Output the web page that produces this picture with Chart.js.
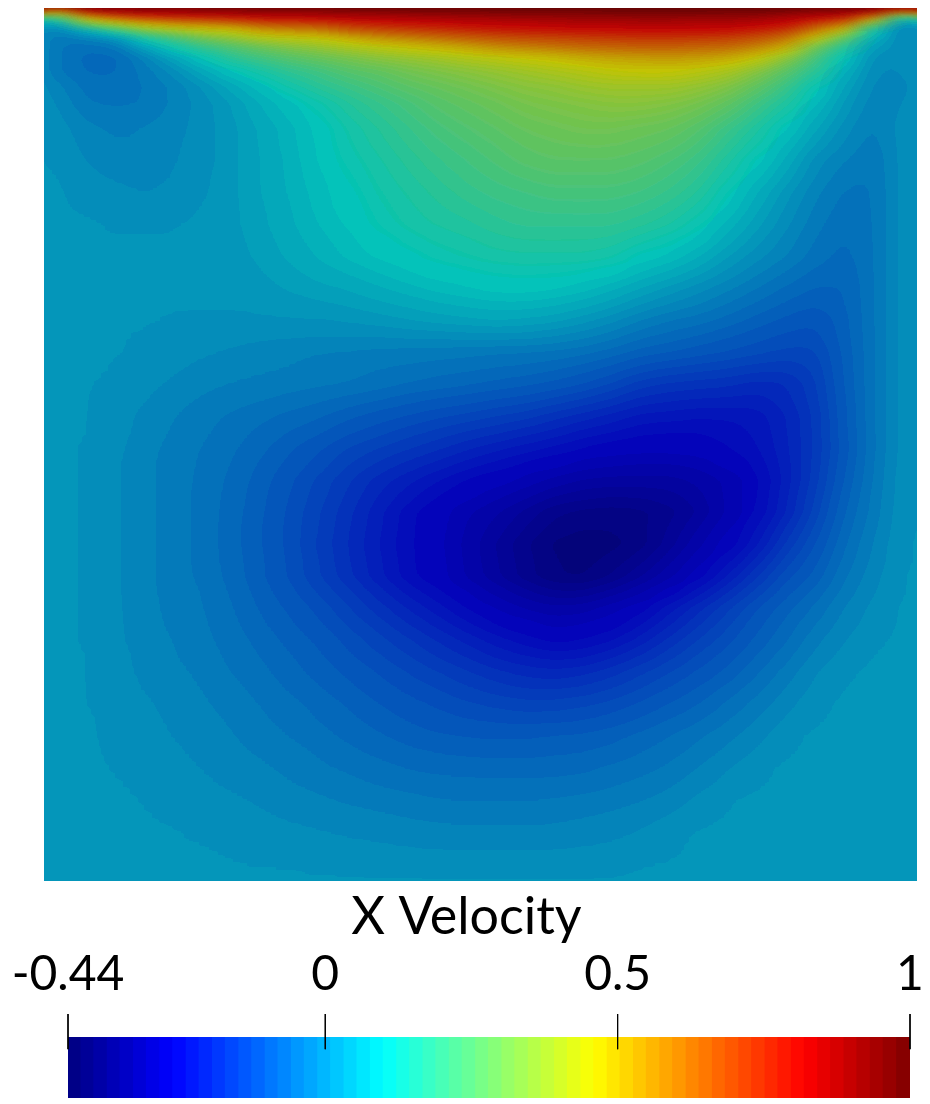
<!DOCTYPE html>
<html><head><meta charset="utf-8">
<script src="https://cdn.jsdelivr.net/npm/chart.js@4"></script>
<style>
html,body{margin:0;padding:0;background:#fff;width:930px;height:1104px;overflow:hidden}
#field{position:absolute;left:44px;top:8px;width:873px;height:873px;overflow:hidden}
#fieldCanvas{position:absolute;left:-58px;top:-8px;filter:url(#smooth)}
#barCanvas{position:absolute;left:3px;top:881px}
</style></head><body>
<svg width="0" height="0" style="position:absolute"><filter id="smooth" x="0" y="0" width="100%" height="100%" color-interpolation-filters="sRGB">
<feGaussianBlur stdDeviation="13 3"/>
<feComponentTransfer id="bands"></feComponentTransfer>
</filter></svg>
<div id="field"><canvas id="fieldCanvas" width="990" height="889"></canvas></div>
<canvas id="barCanvas" width="927" height="223"></canvas>
<script>
const title = "X Velocity";
const tickValues = [-0.44, 0, 0.5, 1];
const tickLabels = ["-0.44", "0", "0.5", "1"];
const colorbarLevels = [-0.429,-0.406,-0.384,-0.361,-0.339,-0.316,-0.294,-0.271,-0.249,-0.226,-0.204,-0.181,-0.159,-0.136,-0.114,-0.091,-0.069,-0.046,-0.024,-0.001,0.021,0.044,0.066,0.089,0.111,0.134,0.156,0.179,0.201,0.224,0.246,0.269,0.291,0.314,0.336,0.359,0.381,0.404,0.426,0.449,0.471,0.494,0.516,0.539,0.561,0.584,0.606,0.629,0.651,0.674,0.696,0.719,0.741,0.764,0.786,0.809,0.831,0.854,0.876,0.899,0.921,0.944,0.966,0.989];
// cavity cross-section, read row by row: moving lid (off-screen cap), interior rows, floor (off-screen cap)
const rowHeights = [8,6,6,6,8,8,10,12,14,16,18,32,32,32,32,32,32,32,32,32,32,32,32,32,32,32,32,32,32,32,32,32,32,32,33,8];
const leftWall  = [1,.8,.2,.02,0,0,0,0,0,0,0,0,0,0,0,0,0,0,0,0,0,0,0,0,0,0,0,0,0,0,0,0,0,0,0,0];
const rightWall = [1,.8,.3,.05,0,0,0,0,0,0,0,0,0,0,0,0,0,0,0,0,0,0,0,0,0,0,0,0,0,0,0,0,0,0,0,0];
const lid=[1,1,1,1,1,1,1,1,1,1,1,1,1,1,1,1,1,1,1,1,1,1,1,1,1,1,1,1,1,1];
const floorRow=[0,0,0,0,0,0,0,0,0,0,0,0,0,0,0,0,0,0,0,0,0,0,0,0,0,0,0,0,0,0];
const r00=[.55,.84,.88,.90,.91,.92,.93,.94,.94,.94,.95,.95,.96,.96,.96,.97,.97,.97,.97,.97,.98,.98,.97,.97,.97,.96,.94,.93,.88,.7];
const r01=[.25,.51,.65,.71,.74,.76,.78,.81,.82,.83,.85,.86,.87,.88,.89,.89,.90,.90,.91,.91,.91,.91,.91,.91,.90,.87,.83,.78,.59,.15];
const r02=[.05,.34,.44,.52,.57,.60,.63,.68,.70,.71,.75,.77,.79,.80,.82,.83,.84,.85,.86,.86,.87,.87,.86,.86,.84,.81,.71,.63,.33,0];
const r03=[-.03,.06,.2,.33,.39,.44,.46,.54,.57,.59,.65,.68,.7,.72,.74,.76,.77,.78,.79,.79,.8,.8,.8,.79,.76,.72,.6,.46,.12,-.03];
const r04=[-.05,-.03,0,.14,.22,.3,.35,.41,.43,.45,.5,.55,.58,.61,.64,.66,.68,.69,.7,.71,.72,.72,.71,.7,.67,.61,.46,.27,.06,-.03];
const r05=[-.05,-.065,-.05,.03,.12,.19,.24,.29,.33,.36,.4,.43,.46,.49,.52,.56,.58,.6,.62,.63,.64,.64,.63,.62,.58,.5,.3,.16,.02,-.02];
const r06=[-.05,-.075,-.075,-.03,.03,.1,.17,.21,.25,.28,.31,.34,.36,.38,.41,.43,.45,.47,.5,.52,.53,.54,.53,.51,.45,.35,.22,.1,-.01,-.02];
const r07=[-.05,-.07,-.07,-.045,-.01,.04,.09,.14,.18,.21,.25,.27,.3,.32,.34,.36,.38,.4,.42,.44,.45,.45,.43,.4,.34,.26,.17,.06,-.02,-.02];
const r08=[-.03,-.06,-.065,-.05,-.03,0,.04,.08,.13,.17,.2,.23,.26,.28,.3,.32,.34,.35,.37,.38,.38,.38,.36,.33,.27,.2,.11,.03,-.025,-.025];
const r09=[-.02,-.05,-.055,-.05,-.03,-.01,.015,.05,.08,.12,.16,.19,.22,.25,.27,.29,.31,.32,.33,.34,.34,.33,.31,.27,.21,.15,.075,.01,-.03,-.02];
const r10=[-.01,-.03,-.04,-.035,-.025,-.01,.01,.035,.06,.09,.13,.16,.19,.22,.24,.26,.28,.29,.3,.3,.29,.28,.25,.2,.15,.09,.035,-.01,-.04,-.01];
const r11=[-.005,-.02,-.03,-.03,-.02,-.01,.01,.03,.055,.085,.115,.14,.165,.19,.21,.23,.25,.26,.26,.26,.25,.23,.2,.15,.1,.045,-.01,-.035,-.05,-.01];
const r12=[0,-.01,-.015,-.02,-.015,-.005,.01,.03,.05,.075,.1,.125,.145,.165,.185,.2,.21,.22,.22,.22,.21,.19,.16,.105,.05,.005,-.03,-.055,-.055,-.01];
const r13=[0,0,-.005,-.005,-.003,0,.01,.025,.045,.065,.085,.11,.13,.145,.155,.17,.18,.18,.18,.18,.165,.145,.11,.06,.02,-.015,-.045,-.065,-.055,-.01];
const r14=[0,0,0,0,0,0,.005,.018,.035,.05,.068,.085,.1,.115,.125,.135,.14,.14,.14,.13,.10,.08,.05,.015,-.012,-.035,-.06,-.075,-.055,-.01];
const r15=[0,0,0,0,0,0,0,.008,.016,.025,.033,.045,.058,.07,.08,.088,.09,.085,.075,.055,.03,.01,-.01,-.03,-.05,-.07,-.085,-.085,-.055,-.01];
const r16=[0,0,0,-.002,-.003,-.005,-.005,-.005,-.004,-.003,0,.005,.012,.02,.025,.03,.028,.02,.005,-.012,-.035,-.05,-.06,-.075,-.09,-.105,-.115,-.09,-.055,-.01];
const r17=[0,0,-.002,-.006,-.012,-.017,-.022,-.026,-.03,-.034,-.037,-.04,-.042,-.044,-.046,-.048,-.05,-.055,-.062,-.075,-.09,-.10,-.11,-.12,-.13,-.14,-.14,-.095,-.055,-.01];
const r18=[0,-.001,-.006,-.014,-.022,-.03,-.036,-.04,-.043,-.048,-.053,-.06,-.068,-.075,-.082,-.088,-.095,-.105,-.118,-.135,-.16,-.17,-.175,-.18,-.19,-.185,-.155,-.10,-.055,-.01];
const r19=[0,-.002,-.011,-.023,-.034,-.045,-.055,-.063,-.072,-.082,-.095,-.108,-.12,-.13,-.14,-.15,-.16,-.175,-.19,-.205,-.22,-.225,-.23,-.23,-.225,-.2,-.165,-.105,-.055,-.01];
const r20=[0,-.003,-.015,-.029,-.041,-.052,-.065,-.08,-.098,-.115,-.135,-.15,-.165,-.18,-.195,-.21,-.222,-.235,-.25,-.26,-.27,-.27,-.265,-.25,-.235,-.205,-.165,-.11,-.055,-.01];
const r21=[0,-.003,-.017,-.031,-.044,-.056,-.072,-.092,-.115,-.14,-.165,-.19,-.21,-.23,-.25,-.265,-.28,-.30,-.315,-.32,-.32,-.32,-.31,-.29,-.255,-.21,-.16,-.10,-.05,-.008];
const r22=[0,-.003,-.017,-.031,-.044,-.058,-.076,-.098,-.123,-.15,-.18,-.21,-.24,-.265,-.29,-.31,-.335,-.36,-.37,-.375,-.37,-.355,-.33,-.29,-.25,-.2,-.145,-.085,-.045,-.006];
const r23=[0,-.003,-.017,-.031,-.044,-.058,-.078,-.10,-.125,-.155,-.185,-.215,-.245,-.27,-.30,-.33,-.36,-.385,-.395,-.39,-.375,-.34,-.30,-.265,-.22,-.165,-.12,-.07,-.035,-.004];
const r24=[0,-.003,-.017,-.031,-.043,-.056,-.075,-.097,-.122,-.15,-.18,-.21,-.24,-.265,-.295,-.325,-.355,-.38,-.385,-.365,-.335,-.30,-.26,-.215,-.17,-.125,-.095,-.055,-.025,-.002];
const r25=[0,-.003,-.017,-.029,-.041,-.05,-.067,-.086,-.105,-.125,-.15,-.175,-.2,-.225,-.25,-.275,-.295,-.31,-.305,-.285,-.26,-.225,-.19,-.155,-.12,-.09,-.065,-.035,-.015,0];
const r26=[0,-.003,-.016,-.026,-.037,-.047,-.06,-.075,-.09,-.105,-.125,-.145,-.165,-.185,-.205,-.225,-.24,-.255,-.25,-.235,-.21,-.18,-.15,-.125,-.095,-.07,-.04,-.02,-.005,0];
const r27=[0,-.002,-.014,-.022,-.03,-.04,-.052,-.064,-.077,-.09,-.105,-.12,-.135,-.15,-.165,-.18,-.19,-.195,-.19,-.175,-.155,-.135,-.115,-.095,-.07,-.045,-.02,-.005,0,0];
const r28=[0,-.001,-.011,-.017,-.025,-.033,-.043,-.053,-.064,-.075,-.087,-.1,-.112,-.122,-.132,-.14,-.145,-.145,-.14,-.13,-.115,-.1,-.085,-.065,-.045,-.025,-.008,0,0,0];
const r29=[0,0,-.007,-.012,-.02,-.026,-.034,-.043,-.052,-.062,-.072,-.082,-.09,-.097,-.102,-.104,-.104,-.10,-.097,-.09,-.08,-.068,-.055,-.04,-.025,-.008,0,0,0,0];
const r30=[0,0,-.003,-.007,-.013,-.02,-.026,-.033,-.04,-.048,-.055,-.062,-.068,-.072,-.075,-.076,-.076,-.075,-.072,-.066,-.058,-.048,-.035,-.02,-.007,0,0,0,0,0];
const r31=[0,0,0,-.003,-.007,-.012,-.017,-.022,-.028,-.033,-.038,-.042,-.046,-.05,-.052,-.052,-.052,-.05,-.047,-.042,-.036,-.028,-.015,-.004,0,0,0,0,0,0];
const r32=[0,0,0,0,-.002,-.005,-.008,-.012,-.015,-.018,-.021,-.024,-.027,-.029,-.03,-.03,-.03,-.03,-.027,-.024,-.018,-.008,-.001,0,0,0,0,0,0,0];
const r33=[0,0,0,0,0,0,-.001,-.003,-.004,-.005,-.006,-.008,-.009,-.01,-.01,-.01,-.01,-.01,-.01,-.008,-.004,-.001,0,0,0,0,0,0,0,0];
const rows=[lid,r00,r01,r02,r03,r04,r05,r06,r07,r08,r09,r10,r11,r12,r13,r14,r15,r16,r17,r18,r19,r20,r21,r22,r23,r24,r25,r26,r27,r28,r29,r30,r31,r32,r33,floorRow];

// colour scale
const VMIN=-0.44, VMAX=1;
function jet(v,dim,dimB){
  const t=Math.min(1,Math.max(0,(v-VMIN)/(VMAX-VMIN)));
  const c=x=>Math.min(1,Math.max(0,x));
  const r=c(Math.min(4*t-1.5,-4*t+4.5)), g=c(Math.min(4*t-0.5,-4*t+3.5)), b=c(Math.min(4*t+0.5,-4*t+2.5));
  return `rgb(${Math.round(r*255*dim)},${Math.round(g*255*dim)},${Math.round(b*255*dimB)})`;
}
const shaded=v=>jet(v+0.006,0.78,0.74);

// discrete contour look
const n=28, table=Array.from({length:n},(_, i)=>((i+.5)/n).toFixed(4)).join(' ');
const ct=document.getElementById('bands');
['feFuncR','feFuncG','feFuncB'].forEach(k=>{const f=document.createElementNS('http://www.w3.org/2000/svg',k);f.setAttribute('type','discrete');f.setAttribute('tableValues',table);ct.appendChild(f);});

// the wall values continue off-screen so the wall colour runs right up to the edge
const PAD=2;
const paddedRows=rows.map((row,i)=>[...Array(PAD).fill(leftWall[i]),...row,...Array(PAD).fill(rightWall[i])]);
const colLabels=paddedRows[0].map((_,i)=>i);
const cum=[0];rowHeights.forEach(h=>cum.push(cum[cum.length-1]+h));

new Chart(document.getElementById('fieldCanvas'),{
  type:'bar',
  data:{labels:colLabels,datasets:paddedRows.map((row,ri)=>({
    label:'row '+ri,
    data:row.map(()=>rowHeights[ri]),
    velocity:row,
    barPercentage:1,categoryPercentage:1,borderWidth:0,inflateAmount:1,
    backgroundColor(ctx){
      if(ctx.type!=='data')return '#000';
      const j=ctx.dataIndex, v=row[j];
      const up=ri>0?paddedRows[ri-1][j]:v;
      const dn=ri<rows.length-1?paddedRows[ri+1][j]:v;
      const hUp=ri>0?rowHeights[ri-1]:rowHeights[ri], hDn=ri<rows.length-1?rowHeights[ri+1]:rowHeights[ri], h=rowHeights[ri];
      const top=v+(up-v)*h/(h+hUp), bot=v+(dn-v)*h/(h+hDn);
      const y=ctx.chart.scales.y;
      const y0=y?y.getPixelForValue(cum[ri]):NaN, y1=y?y.getPixelForValue(cum[ri+1]):NaN;
      if(!isFinite(y0)||!isFinite(y1))return shaded(v);
      const g=ctx.chart.ctx.createLinearGradient(0,y0,0,y1);
      g.addColorStop(0,shaded(top));g.addColorStop(.5,shaded(v));g.addColorStop(1,shaded(bot));
      return g;
    }
  }))},
  options:{responsive:false,animation:false,events:[],
    layout:{padding:0},
    plugins:{legend:{display:false},tooltip:{enabled:false}},
    scales:{
      x:{display:false,stacked:true,offset:true},
      y:{display:false,stacked:true,reverse:true,min:0,max:889}
    }}
});

const tickLines=[];
tickValues.forEach(x=>{tickLines.push({x,y:1.377},{x,y:0.8},{x,y:NaN});});
new Chart(document.getElementById('barCanvas'),{
  data:{datasets:[
    {type:'line',data:tickLines,borderColor:'#000',borderWidth:1,pointRadius:0,tension:0,clip:false,spanGaps:false,order:0},
    {type:'bar',data:colorbarLevels.map(x=>({x,y:1})),backgroundColor:colorbarLevels.map(v=>jet(v,1,1)),barPercentage:1,categoryPercentage:1,borderWidth:0,inflateAmount:1,order:1}
  ]},
  options:{responsive:false,animation:false,events:[],
    layout:{padding:{left:0,right:0,top:0,bottom:6}},
    plugins:{legend:{display:false},tooltip:{enabled:false},
      title:{display:true,text:title,color:'#000',font:{family:'Lato',size:52,weight:'400'},padding:{top:5,bottom:0}}},
    scales:{
      x:{type:'linear',position:'top',offset:false,min:-0.44,max:1,
        afterBuildTicks(a){a.ticks=tickValues.map(value=>({value}));},
        afterFit(a){a.paddingLeft=65;a.paddingRight=20;a.height=88.6;},
        border:{display:false},
        grid:{display:false},
        ticks:{color:'#000',font:{family:'Lato',size:48,weight:'400'},maxRotation:0,autoSkip:false,padding:26,
          callback(v){return tickLabels[tickValues.indexOf(v)];}}
      },
      y:{display:false,min:0,max:1}
    }}
});
</script></body></html>
